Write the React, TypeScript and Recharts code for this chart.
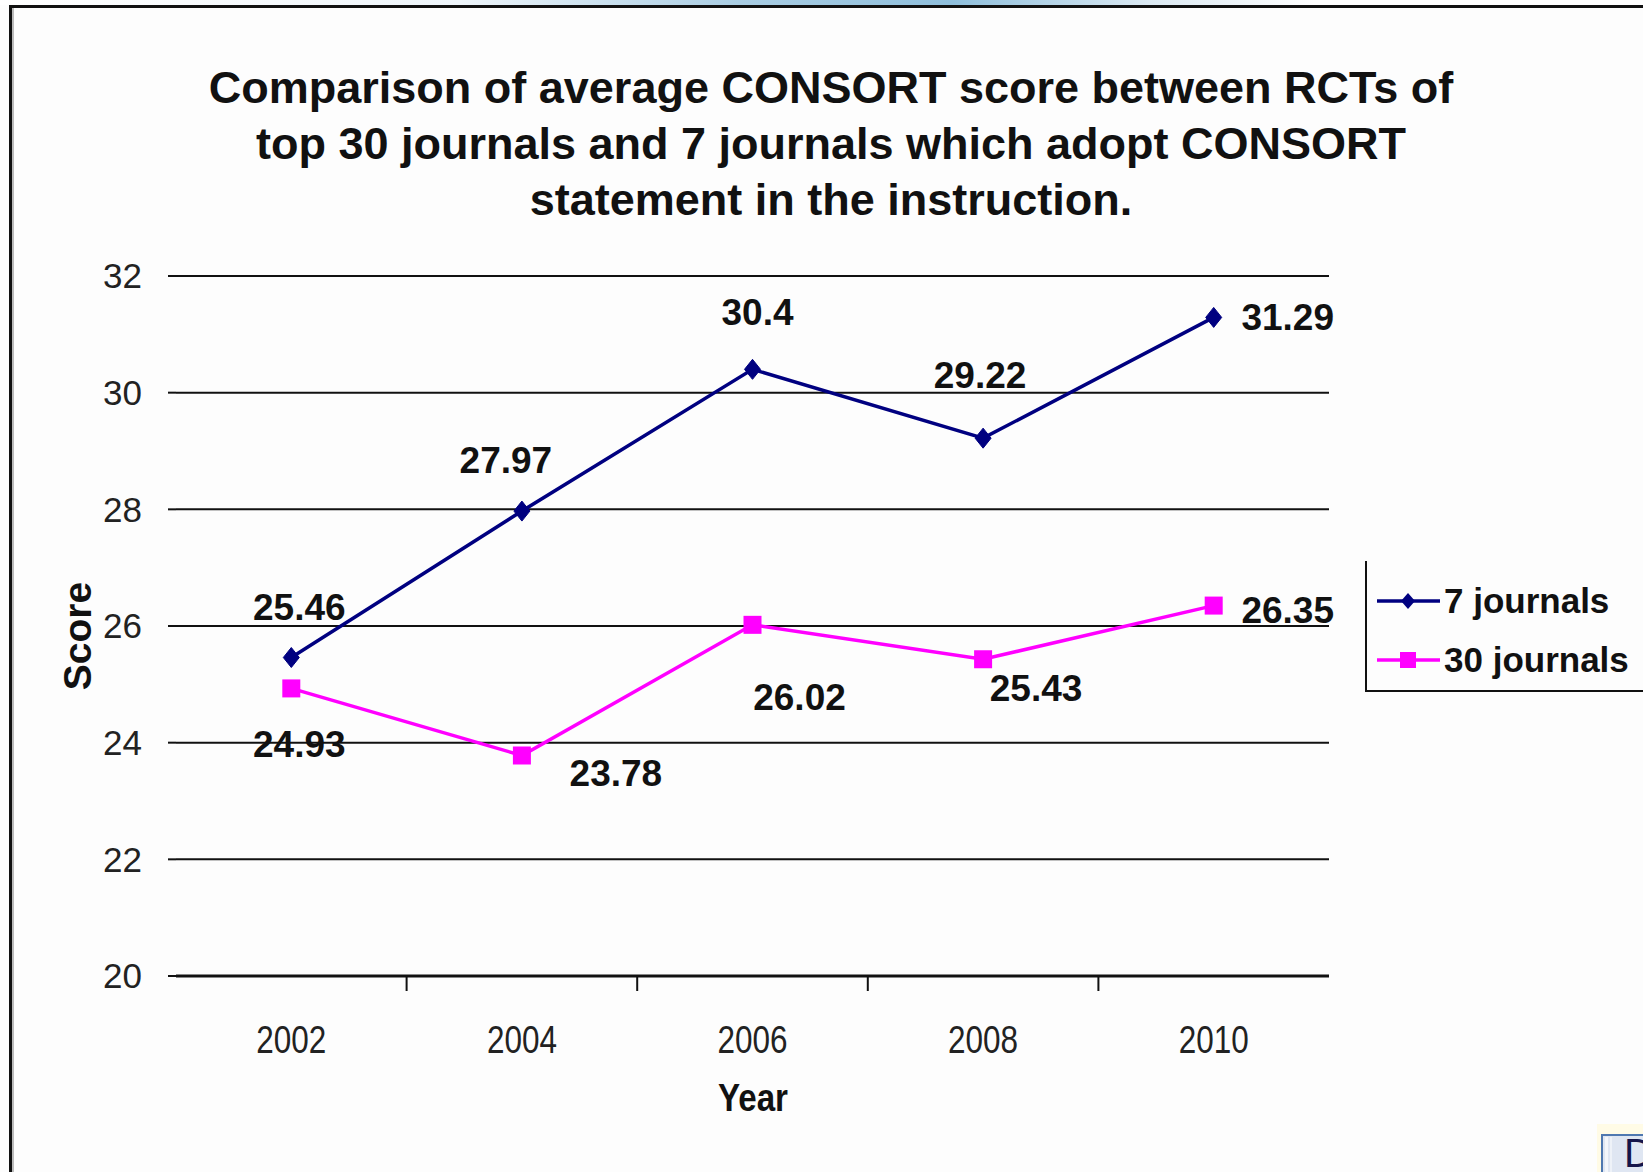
import React from 'react';
import { LineChart, Line, XAxis, YAxis, CartesianGrid, Legend, LabelList } from 'recharts';

// ---------- data ----------
const years = [2002, 2004, 2006, 2008, 2010];
const sevenJournals = [25.46, 27.97, 30.4, 29.22, 31.29];
const thirtyJournals = [24.93, 23.78, 26.02, 25.43, 26.35];
const yTicks = [20, 22, 24, 26, 28, 30, 32];
const xBoundaryTicks = [2003, 2005, 2007, 2009];
const seriesNames = ['7 journals', '30 journals'];
const titleLines = [
  'Comparison of average CONSORT score between RCTs of',
  'top 30 journals and 7 journals which adopt CONSORT',
  'statement in the instruction.',
];
const xTitle = 'Year';
const yTitle = 'Score';

const data = years.map((year, i) => ({ year, seven: sevenJournals[i], thirty: thirtyJournals[i] }));
const allXTicks = [...years, ...xBoundaryTicks].sort((a, b) => a - b);

// ---------- styling ----------
const W = 1643;
const H = 1172;
const NAVY = '#000080';
const MAGENTA = '#ff00ff';
const INK = '#111111';
const FONT = '"Liberation Sans", Arial, Helvetica, sans-serif';

// label nudges (pixels, relative to the point) reproducing the manual label placement
const sevenNudge = [[8, -51], [-16, -51], [5, -57], [-3, -63], [74, 0]];
const thirtyNudge = [[8, 56], [94, 17], [47, 72], [53, 29], [74, 4]];

const makeLabel = (nudge: number[][], values: number[], key: string) => (props: any) => {
  const vb = props.viewBox || {};
  const px = props.x ?? vb.x;
  const py = props.y ?? vb.y;
  let i = props.index;
  if (i == null) i = values.indexOf(Number(props.value));
  const [dx, dy] = nudge[i] || [0, -40];
  return (
    <text
      key={`${key}-${i}`}
      x={px + dx}
      y={py + dy + 13}
      textAnchor="middle"
      fontFamily={FONT}
      fontWeight="bold"
      fontSize={37}
      fill={INK}
    >
      {props.value}
    </text>
  );
};

const Diamond = (p: any) => {
  const { cx, cy, index } = p;
  if (cx == null || cy == null) return <g key={`dm-${index}`} />;
  return (
    <path
      key={`dm-${index}`}
      d={`M${cx},${cy - 10} L${cx + 8},${cy} L${cx},${cy + 10} L${cx - 8},${cy} Z`}
      fill={NAVY}
      stroke={NAVY}
      strokeWidth={1}
    />
  );
};

const Square = (p: any) => {
  const { cx, cy, index } = p;
  if (cx == null || cy == null) return <g key={`sq-${index}`} />;
  return <rect key={`sq-${index}`} x={cx - 9} y={cy - 9} width={18} height={18} fill={MAGENTA} />;
};

const XTick = (p: any) => {
  const { x, y, payload } = p;
  const v = payload?.value;
  if (years.includes(v)) {
    return (
      <text
        x={x}
        y={y + 69}
        textAnchor="middle"
        fontFamily={FONT}
        fontSize={38}
        fill="#222"
        textLength={70}
        lengthAdjust="spacingAndGlyphs"
      >
        {v}
      </text>
    );
  }
  return <line x1={x} x2={x} y1={y - 8} y2={y + 7} stroke={INK} strokeWidth={2} />;
};

const renderLegend = () => (
  <div
    style={{
      position: 'relative',
      width: 278,
      height: 131,
      borderLeft: `2px solid ${INK}`,
      borderBottom: `2px solid ${INK}`,
      boxSizing: 'border-box',
    }}
  >
    <svg width={276} height={129} style={{ position: 'absolute', left: 0, top: 0 }}>
      <line x1={10} x2={73} y1={40} y2={40} stroke={NAVY} strokeWidth={3.5} />
      <path d="M41,32 L48,40 L41,48 L34,40 Z" fill={NAVY} />
      <text x={77} y={52} fontFamily={FONT} fontWeight="bold" fontSize={35} fill={INK}>
        {seriesNames[0]}
      </text>
      <line x1={10} x2={73} y1={99} y2={99} stroke={MAGENTA} strokeWidth={3.5} />
      <rect x={33} y={91} width={16} height={16} fill={MAGENTA} />
      <text x={77} y={111} fontFamily={FONT} fontWeight="bold" fontSize={35} fill={INK}>
        {seriesNames[1]}
      </text>
    </svg>
  </div>
);

export default function App() {
  return (
    <div
      style={{
        position: 'absolute',
        left: 0,
        top: 0,
        width: W,
        height: H,
        overflow: 'hidden',
        background: '#fdfdfd',
      }}
    >
      <LineChart
        width={W}
        height={H}
        data={data}
        margin={{ top: 276, right: 314, bottom: 96, left: 76 }}
      >
        <CartesianGrid horizontal vertical={false} stroke={INK} strokeWidth={2} strokeDasharray="" />
        <XAxis
          dataKey="year"
          type="number"
          domain={[2001, 2011]}
          ticks={allXTicks}
          interval={0}
          allowDecimals={false}
          height={100}
          axisLine={{ stroke: INK, strokeWidth: 3 }}
          tickLine={false}
          tickSize={6}
          tickMargin={2}
          tick={(p: any) => <XTick {...p} />}
        />
        <YAxis
          domain={[20, 32]}
          ticks={yTicks}
          interval={0}
          width={100}
          axisLine={false}
          tickLine={{ stroke: INK, strokeWidth: 2 }}
          tickSize={8}
          tickMargin={26}
          tick={{ fontFamily: FONT, fontSize: 35, fill: '#222' }}
        />
        <Legend
          layout="horizontal"
          verticalAlign="middle"
          align="center"
          content={renderLegend}
          wrapperStyle={{ left: 1365, top: 561, width: 278, height: 131 }}
        />
        <Line
          type="linear"
          dataKey="seven"
          name={seriesNames[0]}
          stroke={NAVY}
          strokeWidth={3.5}
          dot={Diamond}
          activeDot={false}
          isAnimationActive={false}
        >
          <LabelList dataKey="seven" content={makeLabel(sevenNudge, sevenJournals, 'sl')} />
        </Line>
        <Line
          type="linear"
          dataKey="thirty"
          name={seriesNames[1]}
          stroke={MAGENTA}
          strokeWidth={3.5}
          dot={Square}
          activeDot={false}
          isAnimationActive={false}
        >
          <LabelList dataKey="thirty" content={makeLabel(thirtyNudge, thirtyJournals, 'tl')} />
        </Line>
      </LineChart>

      <svg
        width={W}
        height={H}
        style={{ position: 'absolute', left: 0, top: 0, pointerEvents: 'none' }}
      >
        <defs>
          <linearGradient id="topStrip" x1="0" x2="1" y1="0" y2="0">
            <stop offset="0" stopColor="#ffffff" />
            <stop offset="0.28" stopColor="#eef5fa" />
            <stop offset="0.45" stopColor="#a9cde3" />
            <stop offset="0.58" stopColor="#8fbfdc" />
            <stop offset="0.7" stopColor="#dbe9f2" />
            <stop offset="0.8" stopColor="#ffffff" />
            <stop offset="1" stopColor="#ffffff" />
          </linearGradient>
        </defs>
        <rect x={0} y={0} width={W} height={5} fill="url(#topStrip)" />
        <rect x={9} y={5} width={W - 9} height={3} fill={INK} />
        <rect x={9} y={5} width={3} height={H - 5} fill={INK} />
        <rect x={12} y={8} width={2} height={H - 8} fill="#bbbbbb" />

        {titleLines.map((t, i) => (
          <text
            key={t}
            x={831}
            y={103 + i * 56}
            textAnchor="middle"
            fontFamily={FONT}
            fontWeight="bold"
            fontSize={45}
            fill={INK}
          >
            {t}
          </text>
        ))}

        <text
          transform="translate(91,636) rotate(-90)"
          textAnchor="middle"
          fontFamily={FONT}
          fontWeight="bold"
          fontSize={39}
          fill={INK}
        >
          {yTitle}
        </text>
        <text
          x={753}
          y={1111}
          textAnchor="middle"
          fontFamily={FONT}
          fontWeight="bold"
          fontSize={39}
          fill={INK}
          textLength={70}
          lengthAdjust="spacingAndGlyphs"
        >
          {xTitle}
        </text>

        <rect x={1597} y={1124} width={46} height={48} fill="#fffbe6" />
        <rect x={1602} y={1135} width={50} height={50} fill="#dfe6f2" stroke="#4f78b0" strokeWidth={2} />
        <rect x={1605} y={1137} width={3} height={40} fill="#f3f6fb" />
        <rect x={1610} y={1137} width={2} height={40} fill="#eef2f8" />
        <text x={1624} y={1167} fontFamily={FONT} fontSize={40} fill="#15154a">
          D
        </text>
      </svg>
    </div>
  );
}
